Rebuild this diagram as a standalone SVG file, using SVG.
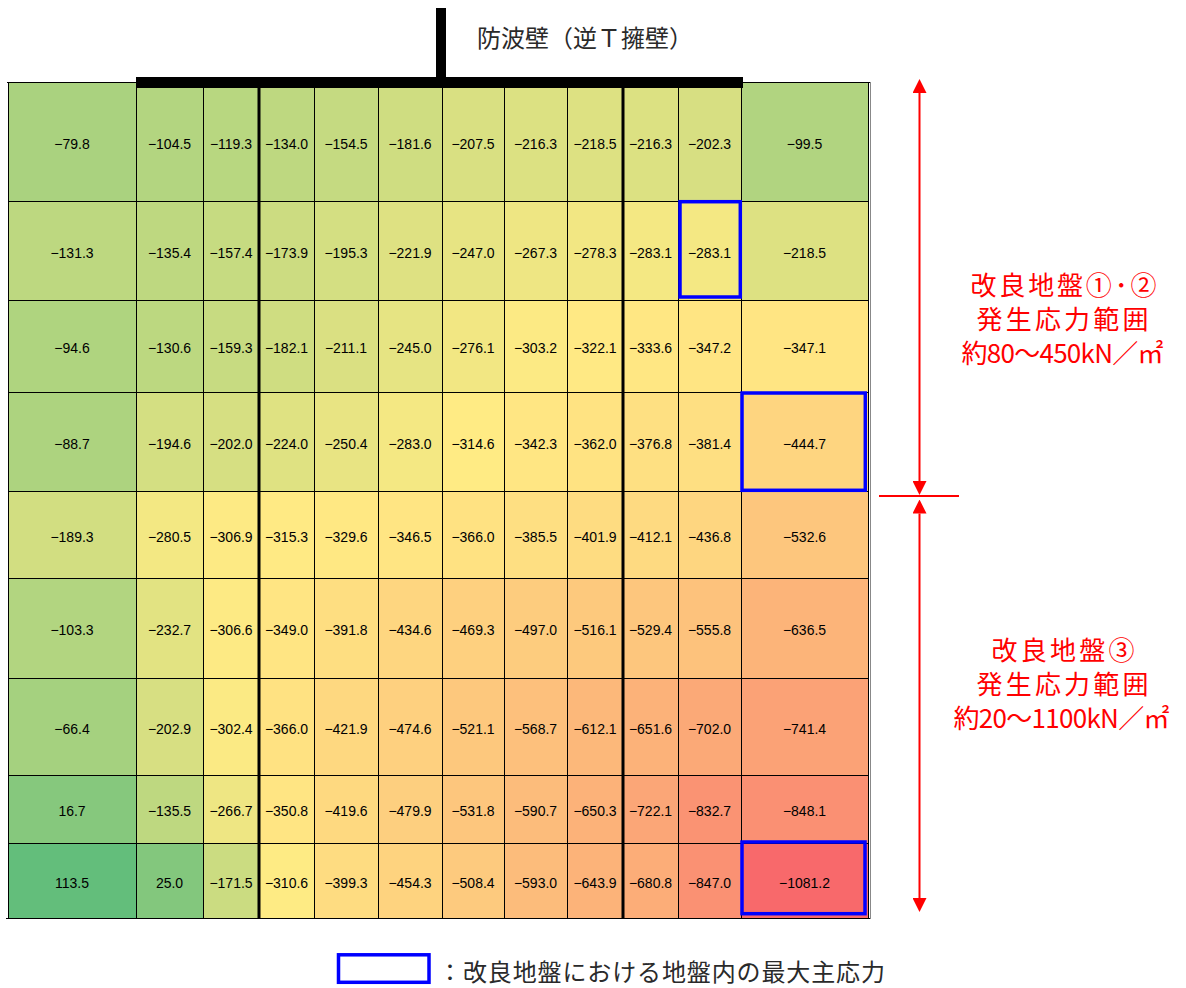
<svg xmlns="http://www.w3.org/2000/svg" width="1186" height="988" viewBox="0 0 1186 988">
<style>
.cell text{font-family:"Liberation Sans",Arial,sans-serif;font-size:14px;text-anchor:middle;fill:#000}
.ln{stroke:#000;stroke-width:1;fill:none}
.thick{stroke:#000;stroke-width:3;fill:none}
.maxbox{fill:none;stroke:#0000FF;stroke-width:3.5}
.red{font-family:"Noto Sans CJK JP",sans-serif;font-size:26px;fill:#FF0000;text-anchor:middle}
.jp{font-family:"Liberation Serif","Noto Sans CJK JP",serif;font-size:24px;fill:#2a2a2a}
.arrow{stroke:#FF0000;stroke-width:2;fill:none}
</style>
<defs>
<marker id="ah" viewBox="0 0 14 14" refX="0" refY="7" markerWidth="14" markerHeight="14" markerUnits="userSpaceOnUse" orient="auto-start-reverse">
<path d="M0,0 L14,7 L0,14 z" fill="#FF0000"/>
</marker>
</defs>
<rect width="1186" height="988" fill="#FFFFFF"/>

<g id="cells">
<g id="r1c1" class="cell"><rect x="8" y="82" width="128" height="119" fill="#AAD27F"/><text x="72" y="148.5">−79.8</text></g>
<g id="r1c2" class="cell"><rect x="136" y="82" width="67" height="119" fill="#B3D580"/><text x="169.5" y="148.5">−104.5</text></g>
<g id="r1c3" class="cell"><rect x="203" y="82" width="56" height="119" fill="#B8D780"/><text x="231" y="148.5">−119.3</text></g>
<g id="r1c4" class="cell"><rect x="259" y="82" width="55" height="119" fill="#BED880"/><text x="286.5" y="148.5">−134.0</text></g>
<g id="r1c5" class="cell"><rect x="314" y="82" width="64" height="119" fill="#C5DA81"/><text x="346" y="148.5">−154.5</text></g>
<g id="r1c6" class="cell"><rect x="378" y="82" width="64" height="119" fill="#CFDD81"/><text x="410" y="148.5">−181.6</text></g>
<g id="r1c7" class="cell"><rect x="442" y="82" width="62" height="119" fill="#D9E082"/><text x="473" y="148.5">−207.5</text></g>
<g id="r1c8" class="cell"><rect x="504" y="82" width="63" height="119" fill="#DCE182"/><text x="535.5" y="148.5">−216.3</text></g>
<g id="r1c9" class="cell"><rect x="567" y="82" width="56" height="119" fill="#DDE182"/><text x="595" y="148.5">−218.5</text></g>
<g id="r1c10" class="cell"><rect x="623" y="82" width="55" height="119" fill="#DCE182"/><text x="650.5" y="148.5">−216.3</text></g>
<g id="r1c11" class="cell"><rect x="678" y="82" width="63" height="119" fill="#D7DF82"/><text x="709.5" y="148.5">−202.3</text></g>
<g id="r1c12" class="cell"><rect x="741" y="82" width="127" height="119" fill="#B1D480"/><text x="804.5" y="148.5">−99.5</text></g>

<g id="r2c1" class="cell"><rect x="8" y="201" width="128" height="99" fill="#BDD880"/><text x="72" y="257.5">−131.3</text></g>
<g id="r2c2" class="cell"><rect x="136" y="201" width="67" height="99" fill="#BED880"/><text x="169.5" y="257.5">−135.4</text></g>
<g id="r2c3" class="cell"><rect x="203" y="201" width="56" height="99" fill="#C6DB81"/><text x="231" y="257.5">−157.4</text></g>
<g id="r2c4" class="cell"><rect x="259" y="201" width="55" height="99" fill="#CCDC81"/><text x="286.5" y="257.5">−173.9</text></g>
<g id="r2c5" class="cell"><rect x="314" y="201" width="64" height="99" fill="#D4DF82"/><text x="346" y="257.5">−195.3</text></g>
<g id="r2c6" class="cell"><rect x="378" y="201" width="64" height="99" fill="#DEE182"/><text x="410" y="257.5">−221.9</text></g>
<g id="r2c7" class="cell"><rect x="442" y="201" width="62" height="99" fill="#E7E483"/><text x="473" y="257.5">−247.0</text></g>
<g id="r2c8" class="cell"><rect x="504" y="201" width="63" height="99" fill="#EEE683"/><text x="535.5" y="257.5">−267.3</text></g>
<g id="r2c9" class="cell"><rect x="567" y="201" width="56" height="99" fill="#F2E783"/><text x="595" y="257.5">−278.3</text></g>
<g id="r2c10" class="cell"><rect x="623" y="201" width="55" height="99" fill="#F4E883"/><text x="650.5" y="257.5">−283.1</text></g>
<g id="r2c11" class="cell"><rect x="678" y="201" width="63" height="99" fill="#F4E883"/><text x="709.5" y="257.5">−283.1</text></g>
<g id="r2c12" class="cell"><rect x="741" y="201" width="127" height="99" fill="#DDE182"/><text x="804.5" y="257.5">−218.5</text></g>

<g id="r3c1" class="cell"><rect x="8" y="300" width="128" height="92" fill="#AFD47F"/><text x="72" y="353">−94.6</text></g>
<g id="r3c2" class="cell"><rect x="136" y="300" width="67" height="92" fill="#BCD880"/><text x="169.5" y="353">−130.6</text></g>
<g id="r3c3" class="cell"><rect x="203" y="300" width="56" height="92" fill="#C7DB81"/><text x="231" y="353">−159.3</text></g>
<g id="r3c4" class="cell"><rect x="259" y="300" width="55" height="92" fill="#CFDD81"/><text x="286.5" y="353">−182.1</text></g>
<g id="r3c5" class="cell"><rect x="314" y="300" width="64" height="92" fill="#DAE082"/><text x="346" y="353">−211.1</text></g>
<g id="r3c6" class="cell"><rect x="378" y="300" width="64" height="92" fill="#E6E483"/><text x="410" y="353">−245.0</text></g>
<g id="r3c7" class="cell"><rect x="442" y="300" width="62" height="92" fill="#F2E783"/><text x="473" y="353">−276.1</text></g>
<g id="r3c8" class="cell"><rect x="504" y="300" width="63" height="92" fill="#FCEA84"/><text x="535.5" y="353">−303.2</text></g>
<g id="r3c9" class="cell"><rect x="567" y="300" width="56" height="92" fill="#FFE984"/><text x="595" y="353">−322.1</text></g>
<g id="r3c10" class="cell"><rect x="623" y="300" width="55" height="92" fill="#FFE783"/><text x="650.5" y="353">−333.6</text></g>
<g id="r3c11" class="cell"><rect x="678" y="300" width="63" height="92" fill="#FFE583"/><text x="709.5" y="353">−347.2</text></g>
<g id="r3c12" class="cell"><rect x="741" y="300" width="127" height="92" fill="#FFE583"/><text x="804.5" y="353">−347.1</text></g>

<g id="r4c1" class="cell"><rect x="8" y="392" width="128" height="99" fill="#ADD37F"/><text x="72" y="448.5">−88.7</text></g>
<g id="r4c2" class="cell"><rect x="136" y="392" width="67" height="99" fill="#D4DF82"/><text x="169.5" y="448.5">−194.6</text></g>
<g id="r4c3" class="cell"><rect x="203" y="392" width="56" height="99" fill="#D6DF82"/><text x="231" y="448.5">−202.0</text></g>
<g id="r4c4" class="cell"><rect x="259" y="392" width="55" height="99" fill="#DFE282"/><text x="286.5" y="448.5">−224.0</text></g>
<g id="r4c5" class="cell"><rect x="314" y="392" width="64" height="99" fill="#E8E483"/><text x="346" y="448.5">−250.4</text></g>
<g id="r4c6" class="cell"><rect x="378" y="392" width="64" height="99" fill="#F4E883"/><text x="410" y="448.5">−283.0</text></g>
<g id="r4c7" class="cell"><rect x="442" y="392" width="62" height="99" fill="#FFEB84"/><text x="473" y="448.5">−314.6</text></g>
<g id="r4c8" class="cell"><rect x="504" y="392" width="63" height="99" fill="#FFE683"/><text x="535.5" y="448.5">−342.3</text></g>
<g id="r4c9" class="cell"><rect x="567" y="392" width="56" height="99" fill="#FFE382"/><text x="595" y="448.5">−362.0</text></g>
<g id="r4c10" class="cell"><rect x="623" y="392" width="55" height="99" fill="#FEE082"/><text x="650.5" y="448.5">−376.8</text></g>
<g id="r4c11" class="cell"><rect x="678" y="392" width="63" height="99" fill="#FEDF82"/><text x="709.5" y="448.5">−381.4</text></g>
<g id="r4c12" class="cell"><rect x="741" y="392" width="127" height="99" fill="#FED580"/><text x="804.5" y="448.5">−444.7</text></g>

<g id="r5c1" class="cell"><rect x="8" y="491" width="128" height="87" fill="#D2DE81"/><text x="72" y="541.5">−189.3</text></g>
<g id="r5c2" class="cell"><rect x="136" y="491" width="67" height="87" fill="#F3E883"/><text x="169.5" y="541.5">−280.5</text></g>
<g id="r5c3" class="cell"><rect x="203" y="491" width="56" height="87" fill="#FDEA84"/><text x="231" y="541.5">−306.9</text></g>
<g id="r5c4" class="cell"><rect x="259" y="491" width="55" height="87" fill="#FFEA84"/><text x="286.5" y="541.5">−315.3</text></g>
<g id="r5c5" class="cell"><rect x="314" y="491" width="64" height="87" fill="#FFE883"/><text x="346" y="541.5">−329.6</text></g>
<g id="r5c6" class="cell"><rect x="378" y="491" width="64" height="87" fill="#FFE583"/><text x="410" y="541.5">−346.5</text></g>
<g id="r5c7" class="cell"><rect x="442" y="491" width="62" height="87" fill="#FFE282"/><text x="473" y="541.5">−366.0</text></g>
<g id="r5c8" class="cell"><rect x="504" y="491" width="63" height="87" fill="#FEDF82"/><text x="535.5" y="541.5">−385.5</text></g>
<g id="r5c9" class="cell"><rect x="567" y="491" width="56" height="87" fill="#FEDC81"/><text x="595" y="541.5">−401.9</text></g>
<g id="r5c10" class="cell"><rect x="623" y="491" width="55" height="87" fill="#FEDA81"/><text x="650.5" y="541.5">−412.1</text></g>
<g id="r5c11" class="cell"><rect x="678" y="491" width="63" height="87" fill="#FED680"/><text x="709.5" y="541.5">−436.8</text></g>
<g id="r5c12" class="cell"><rect x="741" y="491" width="127" height="87" fill="#FDC67D"/><text x="804.5" y="541.5">−532.6</text></g>

<g id="r6c1" class="cell"><rect x="8" y="578" width="128" height="100" fill="#B2D580"/><text x="72" y="635">−103.3</text></g>
<g id="r6c2" class="cell"><rect x="136" y="578" width="67" height="100" fill="#E2E382"/><text x="169.5" y="635">−232.7</text></g>
<g id="r6c3" class="cell"><rect x="203" y="578" width="56" height="100" fill="#FDEA84"/><text x="231" y="635">−306.6</text></g>
<g id="r6c4" class="cell"><rect x="259" y="578" width="55" height="100" fill="#FFE583"/><text x="286.5" y="635">−349.0</text></g>
<g id="r6c5" class="cell"><rect x="314" y="578" width="64" height="100" fill="#FEDE81"/><text x="346" y="635">−391.8</text></g>
<g id="r6c6" class="cell"><rect x="378" y="578" width="64" height="100" fill="#FED680"/><text x="410" y="635">−434.6</text></g>
<g id="r6c7" class="cell"><rect x="442" y="578" width="62" height="100" fill="#FED07F"/><text x="473" y="635">−469.3</text></g>
<g id="r6c8" class="cell"><rect x="504" y="578" width="63" height="100" fill="#FDCC7E"/><text x="535.5" y="635">−497.0</text></g>
<g id="r6c9" class="cell"><rect x="567" y="578" width="56" height="100" fill="#FDC97D"/><text x="595" y="635">−516.1</text></g>
<g id="r6c10" class="cell"><rect x="623" y="578" width="55" height="100" fill="#FDC67D"/><text x="650.5" y="635">−529.4</text></g>
<g id="r6c11" class="cell"><rect x="678" y="578" width="63" height="100" fill="#FDC27C"/><text x="709.5" y="635">−555.8</text></g>
<g id="r6c12" class="cell"><rect x="741" y="578" width="127" height="100" fill="#FCB479"/><text x="804.5" y="635">−636.5</text></g>

<g id="r7c1" class="cell"><rect x="8" y="678" width="128" height="97" fill="#A5D17F"/><text x="72" y="733.5">−66.4</text></g>
<g id="r7c2" class="cell"><rect x="136" y="678" width="67" height="97" fill="#D7DF82"/><text x="169.5" y="733.5">−202.9</text></g>
<g id="r7c3" class="cell"><rect x="203" y="678" width="56" height="97" fill="#FBEA84"/><text x="231" y="733.5">−302.4</text></g>
<g id="r7c4" class="cell"><rect x="259" y="678" width="55" height="97" fill="#FFE282"/><text x="286.5" y="733.5">−366.0</text></g>
<g id="r7c5" class="cell"><rect x="314" y="678" width="64" height="97" fill="#FED880"/><text x="346" y="733.5">−421.9</text></g>
<g id="r7c6" class="cell"><rect x="378" y="678" width="64" height="97" fill="#FED07F"/><text x="410" y="733.5">−474.6</text></g>
<g id="r7c7" class="cell"><rect x="442" y="678" width="62" height="97" fill="#FDC87D"/><text x="473" y="733.5">−521.1</text></g>
<g id="r7c8" class="cell"><rect x="504" y="678" width="63" height="97" fill="#FDC07C"/><text x="535.5" y="733.5">−568.7</text></g>
<g id="r7c9" class="cell"><rect x="567" y="678" width="56" height="97" fill="#FCB87A"/><text x="595" y="733.5">−612.1</text></g>
<g id="r7c10" class="cell"><rect x="623" y="678" width="55" height="97" fill="#FCB279"/><text x="650.5" y="733.5">−651.6</text></g>
<g id="r7c11" class="cell"><rect x="678" y="678" width="63" height="97" fill="#FBA977"/><text x="709.5" y="733.5">−702.0</text></g>
<g id="r7c12" class="cell"><rect x="741" y="678" width="127" height="97" fill="#FBA276"/><text x="804.5" y="733.5">−741.4</text></g>

<g id="r8c1" class="cell"><rect x="8" y="775" width="128" height="68" fill="#86C87D"/><text x="72" y="816">16.7</text></g>
<g id="r8c2" class="cell"><rect x="136" y="775" width="67" height="68" fill="#BED880"/><text x="169.5" y="816">−135.5</text></g>
<g id="r8c3" class="cell"><rect x="203" y="775" width="56" height="68" fill="#EEE683"/><text x="231" y="816">−266.7</text></g>
<g id="r8c4" class="cell"><rect x="259" y="775" width="55" height="68" fill="#FFE583"/><text x="286.5" y="816">−350.8</text></g>
<g id="r8c5" class="cell"><rect x="314" y="775" width="64" height="68" fill="#FED980"/><text x="346" y="816">−419.6</text></g>
<g id="r8c6" class="cell"><rect x="378" y="775" width="64" height="68" fill="#FDCF7F"/><text x="410" y="816">−479.9</text></g>
<g id="r8c7" class="cell"><rect x="442" y="775" width="62" height="68" fill="#FDC67D"/><text x="473" y="816">−531.8</text></g>
<g id="r8c8" class="cell"><rect x="504" y="775" width="63" height="68" fill="#FCBC7B"/><text x="535.5" y="816">−590.7</text></g>
<g id="r8c9" class="cell"><rect x="567" y="775" width="56" height="68" fill="#FCB279"/><text x="595" y="816">−650.3</text></g>
<g id="r8c10" class="cell"><rect x="623" y="775" width="55" height="68" fill="#FBA677"/><text x="650.5" y="816">−722.1</text></g>
<g id="r8c11" class="cell"><rect x="678" y="775" width="63" height="68" fill="#FA9373"/><text x="709.5" y="816">−832.7</text></g>
<g id="r8c12" class="cell"><rect x="741" y="775" width="127" height="68" fill="#FA9073"/><text x="804.5" y="816">−848.1</text></g>

<g id="r9c1" class="cell"><rect x="8" y="843" width="128" height="75" fill="#63BE7B"/><text x="72" y="887.5">113.5</text></g>
<g id="r9c2" class="cell"><rect x="136" y="843" width="67" height="75" fill="#83C77D"/><text x="169.5" y="887.5">25.0</text></g>
<g id="r9c3" class="cell"><rect x="203" y="843" width="56" height="75" fill="#CBDC81"/><text x="231" y="887.5">−171.5</text></g>
<g id="r9c4" class="cell"><rect x="259" y="843" width="55" height="75" fill="#FEEB84"/><text x="286.5" y="887.5">−310.6</text></g>
<g id="r9c5" class="cell"><rect x="314" y="843" width="64" height="75" fill="#FEDC81"/><text x="346" y="887.5">−399.3</text></g>
<g id="r9c6" class="cell"><rect x="378" y="843" width="64" height="75" fill="#FED37F"/><text x="410" y="887.5">−454.3</text></g>
<g id="r9c7" class="cell"><rect x="442" y="843" width="62" height="75" fill="#FDCA7E"/><text x="473" y="887.5">−508.4</text></g>
<g id="r9c8" class="cell"><rect x="504" y="843" width="63" height="75" fill="#FCBC7B"/><text x="535.5" y="887.5">−593.0</text></g>
<g id="r9c9" class="cell"><rect x="567" y="843" width="56" height="75" fill="#FCB379"/><text x="595" y="887.5">−643.9</text></g>
<g id="r9c10" class="cell"><rect x="623" y="843" width="55" height="75" fill="#FCAD78"/><text x="650.5" y="887.5">−680.8</text></g>
<g id="r9c11" class="cell"><rect x="678" y="843" width="63" height="75" fill="#FA9173"/><text x="709.5" y="887.5">−847.0</text></g>
<g id="r9c12" class="cell"><rect x="741" y="843" width="127" height="75" fill="#F8696B"/><text x="804.5" y="887.5">−1081.2</text></g>
</g>

<g id="grid-lines">
<path class="ln" d="M8.5,82 V918 M136.5,82 V918 M203.5,82 V918 M314.5,82 V918 M378.5,82 V918 M442.5,82 V918 M504.5,82 V918 M567.5,82 V918 M678.5,82 V918 M741.5,82 V918 M868.5,82 V918"/>
<path class="ln" d="M7,82.5 H870 M8,201.5 H868 M8,300.5 H868 M8,392.5 H868 M8,491.5 H868 M8,578.5 H868 M8,678.5 H868 M8,775.5 H868 M8,843.5 H868 M6,918.5 H871"/>
<path d="M870.5,82 V919" stroke="#888888" stroke-width="1" fill="none"/>
<path class="thick" d="M259,86 V918 M623,86 V918"/>
</g>

<g id="wall">
<rect x="136" y="77" width="607" height="11" fill="#000000"/>
<rect x="436" y="8" width="10" height="70" fill="#000000"/>
</g>
<g id="wall-label">
<text class="jp" x="477" y="47">防波壁（逆Ｔ擁壁）</text>
</g>

<g id="max-markers">
<rect class="maxbox" x="680" y="201.7" width="60.3" height="95.3"/>
<rect class="maxbox" x="742" y="393" width="123.3" height="97.3"/>
<rect class="maxbox" x="742" y="842" width="123" height="71.7"/>
</g>

<g id="connectors">
<line class="arrow" x1="919.5" y1="93" x2="919.5" y2="481" marker-start="url(#ah)" marker-end="url(#ah)"/>
<line class="arrow" x1="919.5" y1="513.5" x2="919.5" y2="898" marker-start="url(#ah)" marker-end="url(#ah)"/>
<line class="arrow" x1="879" y1="496" x2="959" y2="496"/>
</g>

<g id="range-upper">
<text class="red" x="1063.5" y="295" textLength="186" lengthAdjust="spacing">改良地盤①･②</text>
<text class="red" x="1062.5" y="329" textLength="172" lengthAdjust="spacing">発生応力範囲</text>
<text class="red" x="1062.5" y="363" textLength="202" lengthAdjust="spacing">約80～450kN／㎡</text>
</g>
<g id="range-lower">
<text class="red" x="1063" y="660" textLength="143" lengthAdjust="spacing">改良地盤③</text>
<text class="red" x="1062.5" y="694" textLength="172" lengthAdjust="spacing">発生応力範囲</text>
<text class="red" x="1061.5" y="728" textLength="216" lengthAdjust="spacing">約20～1100kN／㎡</text>
</g>

<g id="legend">
<rect class="maxbox" x="338.5" y="954.8" width="90.5" height="27.5" fill="#FFFFFF"/>
<text class="jp" x="438" y="981" textLength="447" lengthAdjust="spacing">：改良地盤における地盤内の最大主応力</text>
</g>
</svg>
